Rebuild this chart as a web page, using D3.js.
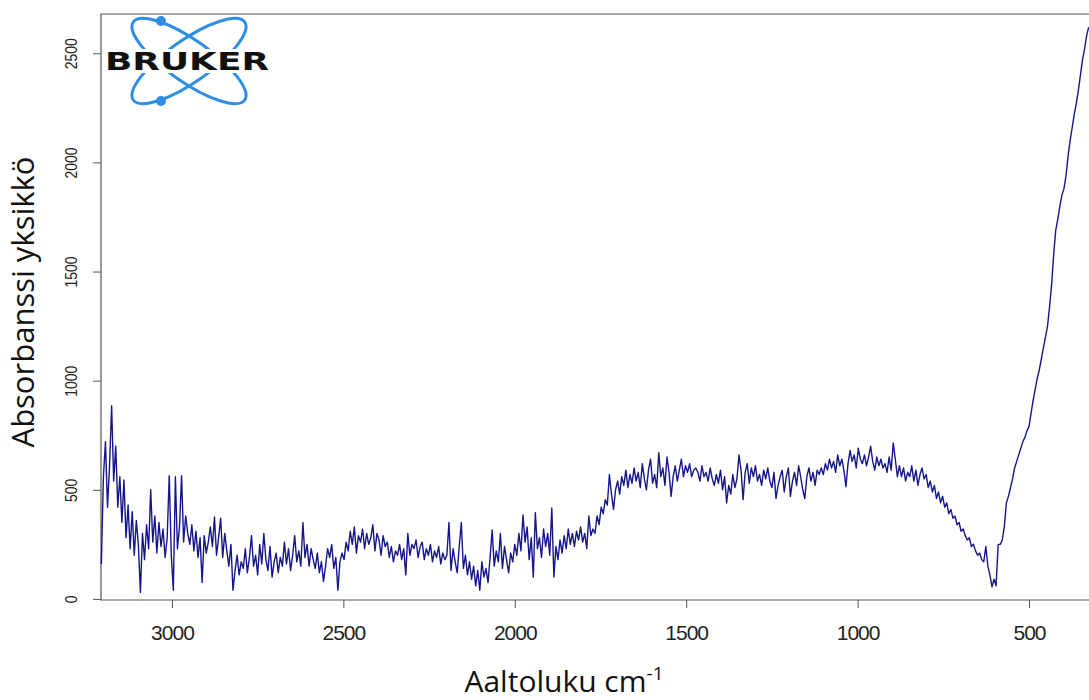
<!DOCTYPE html>
<html>
<head>
<meta charset="utf-8">
<script src="https://cdn.jsdelivr.net/npm/d3@7"></script>
<style>
  html, body { margin: 0; padding: 0; background: #fff; }
  #chart { width: 1089px; height: 700px; }
</style>
</head>
<body>
<div id="chart"></div>
<script>
// spektrin mittauspisteet: aaltoluku alkaa 3206 cm-1 ja laskee 6 cm-1 välein
const wnStart = 3206;
const wnStep = 6;
const absorbance = [
  160, 560, 720, 420, 610, 885, 540, 700, 420, 560,
  350, 545, 280, 430, 230, 400, 200, 360, 250, 30,
  300, 180, 340, 230, 500, 260, 380, 210, 350, 240,
  320, 190, 280, 565, 200, 40, 560, 230, 330, 565,
  260, 380, 300, 250, 340, 220, 310, 190, 280, 75,
  290, 210, 260, 330, 240, 375, 200, 280, 370, 190,
  300, 220, 150, 250, 40, 130, 200, 110, 170, 140,
  230, 120, 190, 290, 150, 200, 110, 250, 160, 300,
  180, 130, 240, 100, 170, 210, 120, 190, 150, 260,
  160, 230, 130, 200, 290, 170, 220, 150, 350, 190,
  250, 150, 230, 180, 140, 210, 120, 170, 80, 150,
  230, 190, 250, 140, 190, 40, 170, 210, 180, 260,
  220, 310, 250, 330, 210, 290, 260, 320, 230, 300,
  250, 280, 340, 220, 300, 270, 200, 290, 240, 260,
  190, 240, 170, 220, 200, 250, 180, 230, 110, 300,
  200, 250, 230, 270, 190, 240, 260, 180, 230, 200,
  250, 170, 220, 190, 240, 160, 210, 180, 200, 350,
  130, 230, 170, 120, 240, 350, 140, 200, 110, 170,
  90, 150, 60, 130, 40, 170, 100, 140, 75, 190,
  316, 150, 220, 170, 300, 140, 240, 180, 120, 210,
  170, 250, 200, 300, 220, 385, 260, 330, 180, 280,
  100, 395, 230, 280, 190, 320, 240, 300, 200, 417,
  100, 240, 180, 270, 210, 290, 230, 320, 250, 300,
  240, 310, 270, 330, 260, 300, 230, 380, 290, 320,
  300, 380, 340, 420, 390, 455, 430, 570, 480, 410,
  500, 540, 480, 560, 520, 590, 510, 570, 530, 600,
  540, 580, 510, 620, 550, 500, 590, 640, 530, 570,
  510, 670, 560, 600, 520, 650, 580, 470, 560, 610,
  540, 590, 640, 560, 610, 580, 620, 560, 590, 600,
  580, 540, 610, 560, 580, 540, 600, 550, 520, 570,
  530, 590, 500, 560, 440, 520, 480, 570, 510, 550,
  660, 590, 455, 580, 620, 530, 600, 560, 610, 540,
  570, 520, 590, 550, 600, 540, 510, 580, 460, 520,
  560, 590, 490, 560, 600, 470, 540, 580, 520, 610,
  560, 500, 460, 560, 600, 540, 580, 520, 590, 570,
  600, 570, 620, 590, 640, 600, 630, 580, 660, 610,
  640, 590, 514, 620, 680, 630, 660, 600, 690, 640,
  620, 660, 610, 650, 700, 630, 590, 650, 610, 640,
  600, 620, 580, 650, 590, 715, 640, 560, 610, 560,
  600, 540, 580, 560, 610, 540, 590, 520, 570, 600,
  550, 570, 510, 540, 490, 520, 460, 490, 440, 470,
  420, 440, 390, 410, 370, 380, 340, 350, 310, 320,
  290, 270, 280, 240, 250, 220, 200, 210, 180, 170,
  240, 150, 110, 55, 90, 60, 250, 250, 270, 330,
  440, 470, 510, 550, 600, 630, 660, 690, 720, 740,
  770, 790, 850, 910, 960, 1010, 1050, 1100, 1150, 1200,
  1250, 1340, 1440, 1580, 1690, 1740, 1800, 1850, 1880, 1940,
  2030, 2100, 2160, 2220, 2270, 2330, 2400, 2470, 2520, 2580,
  2620
];
const xTicks = [3000, 2500, 2000, 1500, 1000, 500];
const yTicks = [0, 500, 1000, 1500, 2000, 2500];

const spectrum = absorbance.map((a, i) => ({ wn: wnStart - i * wnStep, a: a }));

const width = 1089, height = 700;
const margin = { left: 101, top: 14, right: 0, bottom: 100 };

const svg = d3.select("#chart").append("svg")
    .attr("width", width)
    .attr("height", height);

// x-akseli käänteinen kuten IR-spektreissä
const x = d3.scaleLinear()
    .domain([3207, 325])
    .range([margin.left, width - margin.right]);

const y = d3.scaleLinear()
    .domain([-5, 2680])
    .range([height - margin.bottom, margin.top]);

const tickFont = "'Liberation Sans', Arial, sans-serif";

// x-akselin tikit ja numerot
const xAxis = svg.append("g")
    .attr("transform", `translate(0, ${y.range()[0]})`)
    .call(d3.axisBottom(x).tickValues(xTicks).tickFormat(d3.format("d"))
        .tickSize(8).tickPadding(17).tickSizeOuter(0));
xAxis.select(".domain").remove();
xAxis.selectAll("line").attr("stroke", "#555");
xAxis.selectAll("text")
    .attr("fill", "#222")
    .attr("font-family", tickFont)
    .attr("font-size", "21px")
    .attr("letter-spacing", "-1px");

// y-akselin tikit, numerot pystyssä ja kapeina
const yAxis = svg.append("g")
    .attr("transform", `translate(${margin.left}, 0)`)
    .call(d3.axisLeft(y).tickValues(yTicks).tickFormat(d3.format("d"))
        .tickSize(8).tickSizeOuter(0));
yAxis.select(".domain").remove();
yAxis.selectAll("line").attr("stroke", "#555");
yAxis.selectAll("text")
    .attr("x", null)
    .attr("dy", null)
    .attr("transform", "translate(-24, 0) rotate(-90) scale(0.82, 1)")
    .attr("text-anchor", "middle")
    .attr("fill", "#222")
    .attr("font-family", tickFont)
    .attr("font-size", "17px");

// kehys: vasen, ylä ja ala
svg.append("path")
    .attr("d", `M${width},${y.range()[1]} H${margin.left} V${y.range()[0]} H${width}`)
    .attr("fill", "none")
    .attr("stroke", "#555")
    .attr("stroke-width", 1.2);

// spektriviiva
const line = d3.line()
    .x(d => x(d.wn))
    .y(d => y(d.a));

svg.append("path")
    .datum(spectrum)
    .attr("d", line)
    .attr("fill", "none")
    .attr("stroke", "#16168a")
    .attr("stroke-width", 1.4)
    .attr("stroke-linejoin", "round");

// Bruker-logo vasempaan yläkulmaan
const logo = svg.append("g").attr("transform", "translate(189, 61)");
[-35, 35].forEach(r => {
    logo.append("ellipse")
        .attr("rx", 68)
        .attr("ry", 21)
        .attr("transform", `rotate(${r})`)
        .attr("fill", "none")
        .attr("stroke", "#2e8ee6")
        .attr("stroke-width", 3);
});
logo.append("circle").attr("cx", -28).attr("cy", -40).attr("r", 5).attr("fill", "#2e8ee6");
logo.append("circle").attr("cx", -28).attr("cy", 40).attr("r", 5).attr("fill", "#2e8ee6");
logo.append("rect")
    .attr("x", -84).attr("y", -12).attr("width", 166).attr("height", 24)
    .attr("fill", "#fff");
logo.append("text")
    .attr("x", -84)
    .attr("y", 9)
    .attr("font-family", "'DejaVu Sans', sans-serif")
    .attr("font-weight", "900")
    .attr("font-size", "24px")
    .attr("textLength", 164)
    .attr("lengthAdjust", "spacingAndGlyphs")
    .attr("fill", "#111")
    .text("BRUKER");

// akselien otsikot
svg.append("text")
    .attr("transform", "translate(34, 302) rotate(-90)")
    .attr("text-anchor", "middle")
    .attr("font-family", "'Open Sans', sans-serif")
    .attr("font-size", "31px")
    .attr("fill", "#111")
    .text("Absorbanssi yksikkö");

const xTitle = svg.append("text")
    .attr("x", 564)
    .attr("y", 692)
    .attr("text-anchor", "middle")
    .attr("font-family", "'Open Sans', sans-serif")
    .attr("font-size", "30px")
    .attr("fill", "#111");
xTitle.append("tspan").text("Aaltoluku cm");
xTitle.append("tspan")
    .attr("dy", -12)
    .attr("font-size", "19px")
    .text("-1");
</script>
</body>
</html>
